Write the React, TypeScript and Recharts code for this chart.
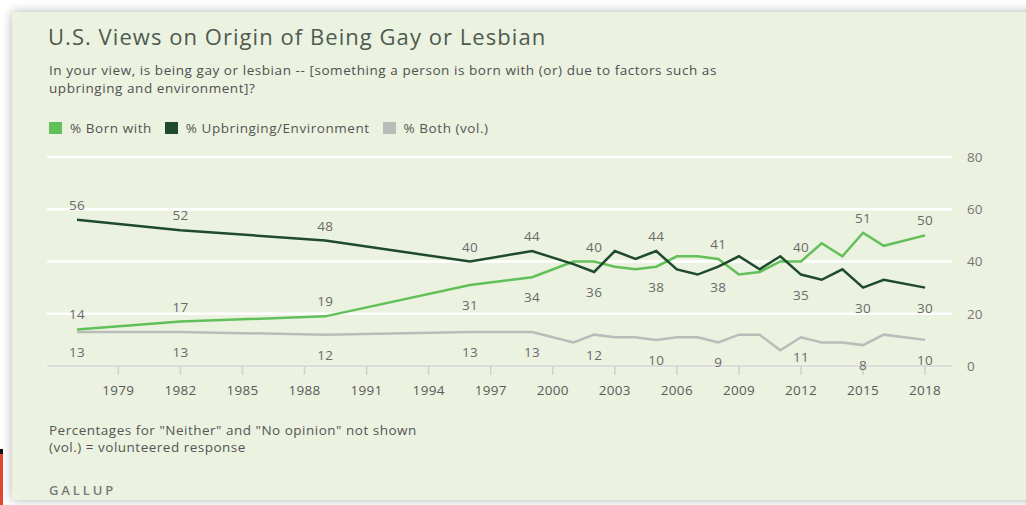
import React from 'react';
import { LineChart, Line, XAxis, YAxis, CartesianGrid } from 'recharts';

const years = [1977, 1982, 1989, 1996, 1999, 2001, 2002, 2003, 2004, 2005, 2006, 2007, 2008, 2009, 2010, 2011, 2012, 2013, 2014, 2015, 2016, 2018];
const bornWith = [14, 17, 19, 31, 34, 40, 40, 38, 37, 38, 42, 42, 41, 35, 36, 40, 40, 47, 42, 51, 46, 50];
const upbringing = [56, 52, 48, 40, 44, 39, 36, 44, 41, 44, 37, 35, 38, 42, 37, 42, 35, 33, 37, 30, 33, 30];
const both = [13, 13, 12, 13, 13, 9, 12, 11, 11, 10, 11, 11, 9, 12, 12, 6, 11, 9, 9, 8, 12, 10];
const labeledYears = [1977, 1982, 1989, 1996, 1999, 2002, 2005, 2008, 2012, 2015, 2018];
const xTicks = [1979, 1982, 1985, 1988, 1991, 1994, 1997, 2000, 2003, 2006, 2009, 2012, 2015, 2018];
const yTicks = [0, 20, 40, 60, 80];

const seriesNames = ['% Born with', '% Upbringing/Environment', '% Both (vol.)'];
const COLORS = { born: '#62c05a', upbringing: '#1f4a2c', both: '#b9bcb8' };

const data = years.map((year, i) => ({ year, born: bornWith[i], upbringing: upbringing[i], both: both[i] }));

const FONT = '"Open Sans", "DejaVu Sans", sans-serif';

function labelAbove(key: string, i: number): boolean {
  if (key === 'both') return false;
  const mine = key === 'born' ? bornWith[i] : upbringing[i];
  const other = key === 'born' ? upbringing[i] : bornWith[i];
  if (mine >= other) return true;
  return mine - both[i] < 10;
}

function makeLabelDot(key: string) {
  return (props: any) => {
    const { cx, cy, index, payload } = props;
    const k = `${key}-lbl-${index}`;
    if (!payload || !labeledYears.includes(payload.year)) return <g key={k} />;
    const above = labelAbove(key, index);
    return (
      <text
        key={k}
        x={cx}
        y={above ? cy - 10 : cy + 25}
        textAnchor="middle"
        fontSize={13.5}
        fontFamily={FONT}
        letterSpacing={0.3}
        fill="#6a6a6a"
      >
        {payload[key]}
      </text>
    );
  };
}

const legendItems = [
  { name: seriesNames[0], color: COLORS.born },
  { name: seriesNames[1], color: COLORS.upbringing },
  { name: seriesNames[2], color: COLORS.both },
];

export default function App() {
  return (
    <div style={{ position: 'fixed', left: 0, top: 0, width: 1026, height: 505, background: '#ffffff', overflow: 'hidden', fontFamily: FONT }}>
      <div style={{ position: 'absolute', left: 0, top: 449, width: 3, height: 5, background: '#111' }} />
      <div style={{ position: 'absolute', left: 0, top: 454, width: 3, height: 51, background: '#e5452f' }} />
      <div
        style={{
          position: 'absolute',
          left: 12,
          top: 12,
          width: 1030,
          height: 488,
          background: '#ebf2e0',
          boxShadow: '0 0 10px rgba(0,0,0,0.3)',
        }}
      />
      <div style={{ position: 'absolute', left: 48, top: 21, fontSize: 22, letterSpacing: 1.05, color: '#4e5a50', whiteSpace: 'nowrap', lineHeight: '30px' }}>
        U.S. Views on Origin of Being Gay or Lesbian
      </div>
      <div style={{ position: 'absolute', left: 49, top: 62, fontSize: 13.5, letterSpacing: 0.56, color: '#505050', lineHeight: '17.5px', whiteSpace: 'nowrap' }}>
        In your view, is being gay or lesbian -- [something a person is born with (or) due to factors such as
        <br />
        upbringing and environment]?
      </div>
      <div style={{ position: 'absolute', left: 49, top: 119, display: 'flex', alignItems: 'center', fontSize: 13.5, letterSpacing: 0.55, color: '#555', whiteSpace: 'nowrap' }}>
        {legendItems.map((it) => (
          <div key={it.name} style={{ display: 'flex', alignItems: 'center', marginRight: 13 }}>
            <span style={{ display: 'inline-block', width: 13, height: 12, background: it.color, marginRight: 8 }} />
            <span>{it.name}</span>
          </div>
        ))}
      </div>
      <div style={{ position: 'absolute', left: 0, top: 0 }}>
        <LineChart width={1026} height={505} data={data} margin={{ top: 157, right: 14, bottom: 109, left: 47 }}>
          <CartesianGrid horizontal vertical={false} stroke="#ffffff" strokeWidth={2.5} />
          <XAxis
            type="number"
            dataKey="year"
            domain={[1975.55, 2019.3]}
            ticks={xTicks}
            allowDataOverflow
            height={30}
            axisLine={{ stroke: '#cfd3cb', strokeWidth: 1.5 }}
            tickLine={{ stroke: '#cfd3cb', strokeWidth: 1.5 }}
            tickSize={9}
            tickMargin={10}
            tick={{ fill: '#5a5a5a', fontSize: 13.5, fontFamily: FONT, letterSpacing: 0.3 }}
          />
          <YAxis
            orientation="right"
            domain={[0, 80]}
            ticks={yTicks}
            width={60}
            axisLine={false}
            tickLine={false}
            tickMargin={9}
            tick={{ fill: '#777', fontSize: 13.5, fontFamily: FONT }}
          />
          <Line dataKey="both" stroke={COLORS.both} strokeWidth={2.5} dot={makeLabelDot('both')} activeDot={false} isAnimationActive={false} />
          <Line dataKey="born" stroke={COLORS.born} strokeWidth={2.5} dot={makeLabelDot('born')} activeDot={false} isAnimationActive={false} />
          <Line dataKey="upbringing" stroke={COLORS.upbringing} strokeWidth={2.5} dot={makeLabelDot('upbringing')} activeDot={false} isAnimationActive={false} />
        </LineChart>
      </div>
      <div style={{ position: 'absolute', left: 49, top: 422, fontSize: 13.5, letterSpacing: 0.5, color: '#555', lineHeight: '17px', whiteSpace: 'nowrap' }}>
        Percentages for "Neither" and "No opinion" not shown
        <br />
        (vol.) = volunteered response
      </div>
      <div style={{ position: 'absolute', left: 49, top: 481, fontSize: 13, color: '#7a7a7a', letterSpacing: 2.9, fontWeight: 600 }}>
        GALLUP
      </div>
    </div>
  );
}
